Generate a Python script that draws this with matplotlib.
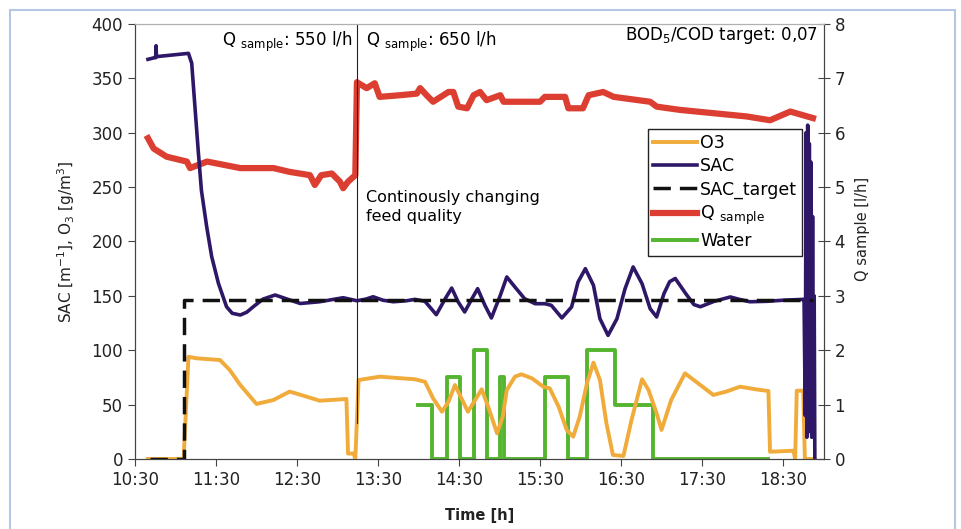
import matplotlib.pyplot as plt
from matplotlib.patches import Rectangle

# time in decimal hours
sac_t = [10.66, 10.74, 10.755, 10.76, 10.765, 11.16, 11.20, 11.24, 11.28, 11.32, 11.385, 11.447, 11.53,
         11.63, 11.70, 11.80, 11.88, 11.96, 12.08, 12.23, 12.38, 12.54, 12.78, 13.07, 13.24, 13.35,
         13.44, 13.56, 13.69, 13.85, 13.957, 14.08, 14.22, 14.33, 14.41, 14.49, 14.57, 14.66, 14.73,
         14.82, 14.90, 15.01, 15.09, 15.19, 15.31, 15.44, 15.56, 15.64, 15.77, 15.89, 15.97, 16.06,
         16.16, 16.24, 16.34, 16.45, 16.55, 16.65, 16.76, 16.86, 16.94, 17.03, 17.10, 17.17, 17.30,
         17.40, 17.48, 17.65, 17.85, 17.95, 18.09, 18.30, 18.50, 18.75,
         18.76, 18.775, 18.785, 18.795, 18.805, 18.815, 18.825, 18.835, 18.845, 18.855, 18.865,
         18.875, 18.885, 18.893]
sac_v = [367.5, 369, 369, 380, 370, 373, 364, 324, 284, 247, 213.6, 186, 161.5,
         140, 134, 132.4, 135, 140, 147, 150.8, 147, 143, 144.6, 148.3, 145.5, 147,
         149.2, 146, 144.6, 145.5, 146.8, 145, 132.7, 147.4, 157.2, 144.4, 135.2, 147.4, 156.6,
         141.3, 129.7, 150.5, 167.4, 158.2, 147.4, 142.8, 142.8, 141.3, 129.7, 139.8, 162.8, 175,
         159.7, 129, 113.7, 129, 156.6, 176.6, 161.2, 138.2, 130.6, 152, 163, 166, 152,
         142, 140, 145, 149, 147, 144.6, 145, 146, 146.8,
         146, 40, 300, 20, 307, 25, 290, 30, 273, 20, 223, 45, 150, 0]

target_t = [10.68, 11.10, 11.10, 18.87]
target_v = [0, 0, 146, 146]

o3_t = [10.66, 11.10, 11.16, 11.26, 11.55, 11.67, 11.80, 12.0, 12.21, 12.41, 12.62, 12.78, 13.11,
        13.13, 13.20, 13.22, 13.26, 13.52, 13.957, 14.08, 14.18, 14.29, 14.37, 14.45, 14.53, 14.61,
        14.70, 14.78, 14.86, 14.97, 15.04, 15.09, 15.19, 15.27, 15.40, 15.54, 15.62, 15.73, 15.83,
        15.91, 15.99, 16.08, 16.16, 16.24, 16.32, 16.40, 16.53, 16.63, 16.76, 16.84, 16.94, 17.0,
        17.12, 17.29, 17.48, 17.64, 17.80, 17.97, 18.17, 18.32, 18.34, 18.63, 18.65, 18.67, 18.75,
        18.77, 18.89]
o3_v = [0, 0, 94, 92.6, 91, 81.8, 68, 50.6, 54.3, 62, 57.3, 53.6, 55.2,
        5, 5, 0, 72.6, 75.7, 73.3, 71, 55.8, 43.5, 52.7, 68, 55.8, 43.5,
        54.3, 64.1, 48.1, 23.6, 38.9, 63.4, 75.7, 77.9, 74.2, 66.5, 65, 48.1, 26.7,
        20.5, 38.9, 69.6, 88.6, 72.6, 32.8, 3.7, 2.8, 35.9, 73.3, 63.4, 42, 26.7,
        54.3, 78.8, 68, 58.9, 62, 66.5, 64, 62.5, 6.7, 7.6, 0, 62.8, 62.8,
        0, 0]

q_t = [10.66, 10.73, 10.89, 11.14, 11.18, 11.39, 11.80, 12.21, 12.41, 12.66, 12.72, 12.80, 12.93,
       13.03, 13.07, 13.13, 13.22, 13.24, 13.26, 13.36, 13.46, 13.52, 13.77, 13.98, 14.02, 14.10,
       14.18, 14.37, 14.43, 14.49, 14.60, 14.68, 14.76, 14.84, 15.01, 15.05, 15.50, 15.56, 15.81,
       15.85, 16.03, 16.10, 16.28, 16.41, 16.86, 16.94, 17.23, 17.64, 18.05, 18.34, 18.59, 18.87]
q_v = [5.90, 5.71, 5.56, 5.47, 5.35, 5.47, 5.35, 5.35, 5.28, 5.22, 5.04, 5.22, 5.25,
       5.10, 4.98, 5.10, 5.22, 6.93, 6.91, 6.82, 6.91, 6.66, 6.69, 6.72, 6.82, 6.69,
       6.57, 6.75, 6.75, 6.48, 6.45, 6.69, 6.75, 6.60, 6.69, 6.57, 6.57, 6.66, 6.66,
       6.45, 6.45, 6.69, 6.75, 6.66, 6.57, 6.48, 6.42, 6.36, 6.30, 6.23, 6.39, 6.27]

water_t = [13.997, 14.17, 14.35, 14.51, 14.68, 14.84, 15.00, 15.05, 15.56, 15.85, 16.08, 16.43, 16.90, 18.32]
water_v = [1, 0, 1.5, 0, 2, 0, 1.5, 0, 1.5, 0, 2, 1, 0, 0]

xticks = [10.5, 11.5, 12.5, 13.5, 14.5, 15.5, 16.5, 17.5, 18.5]
xlabels = ['10:30', '11:30', '12:30', '13:30', '14:30', '15:30', '16:30', '17:30', '18:30']

fig = plt.figure(figsize=(9.61, 5.29), dpi=100)
ax = fig.add_axes([135/961, 1-459/529, 688.5/961, 435/529])
ax2 = ax.twinx()
ax.set_zorder(ax2.get_zorder() + 1)
ax.patch.set_visible(False)

c_o3 = '#f0ab3a'
c_sac = '#2e1766'
c_q = '#dc3e32'
c_w = '#55b530'

l_o3, = ax.plot(o3_t, o3_v, color=c_o3, lw=2.8, label='O3')
l_sac, = ax.plot(sac_t, sac_v, color=c_sac, lw=2.6, label='SAC')
l_tg, = ax.plot(target_t, target_v, color='#111111', lw=2.5, dashes=(5, 2.6), label='SAC_target')
l_q, = ax2.plot(q_t, q_v, color=c_q, lw=4.5, label=r'Q $_{\mathregular{sample}}$')
l_w, = ax2.step(water_t, water_v, where='post', color=c_w, lw=2.8, label='Water')

ax.plot([13.24, 13.24], [33, 400], color='#222222', lw=0.8)

ax.set_xlim(10.5, 19.0)
ax.set_ylim(0, 400)
ax2.set_ylim(0, 8)
ax.set_xticks(xticks)
ax.set_xticklabels(xlabels)
ax.set_yticks(range(0, 401, 50))
ax2.set_yticks(range(0, 9))

ax.tick_params(axis='both', labelsize=12, color='#444444', labelcolor='#222222', length=5)
ax2.tick_params(axis='y', labelsize=12, color='#444444', labelcolor='#222222', direction='inout', length=9)
for a in (ax, ax2):
    for s in ('left', 'bottom', 'right'):
        a.spines[s].set_color('#444444')
    a.spines['top'].set_color('#b0b0b0')

ax.set_ylabel(r'SAC [m$^{\mathregular{-1}}$], O$_{\mathregular{3}}$ [g/m$^{\mathregular{3}}$]', fontsize=11, color='#222222')
ax.yaxis.set_label_coords(-0.084, 0.5)
ax2.set_ylabel('Q sample [l/h]', fontsize=10.5, color='#222222')
ax2.yaxis.set_label_coords(1.046, 0.53)
ax.set_xlabel('Time [h]', fontsize=10.5, fontweight='bold', color='#222222')
ax.xaxis.set_label_coords(0.501, -0.112)

ax.text(0.1264, 0.9586, r'Q $_{\mathregular{sample}}$: 550 l/h', transform=ax.transAxes, fontsize=12, va='center')
ax.text(0.3355, 0.9586, r'Q $_{\mathregular{sample}}$: 650 l/h', transform=ax.transAxes, fontsize=12, va='center')
ax.text(0.992, 0.9747, r'BOD$_{\mathregular{5}}$/COD target: 0,07', transform=ax.transAxes, fontsize=12,
        va='center', ha='right')
ax.text(0.3355, 0.618, 'Continously changing\nfeed quality', transform=ax.transAxes, fontsize=11.5,
        va='top', linespacing=1.3)

leg = ax.legend(handles=[l_o3, l_sac, l_tg, l_q, l_w], loc='upper left', bbox_to_anchor=(0.745, 0.759),
                fontsize=12.5, frameon=True, fancybox=False, framealpha=1, edgecolor='#222222',
                handlelength=2.5, handletextpad=0.2, labelspacing=0.3, borderpad=0.3, borderaxespad=0)
leg.get_frame().set_linewidth(1.0)

fig.patches.append(Rectangle((10/961, -0.1), 945/961, 1.1 - 9.5/529, transform=fig.transFigure,
                             fill=False, edgecolor='#b8c6e6', lw=1.5))

fig.savefig('out.png', dpi=100)
